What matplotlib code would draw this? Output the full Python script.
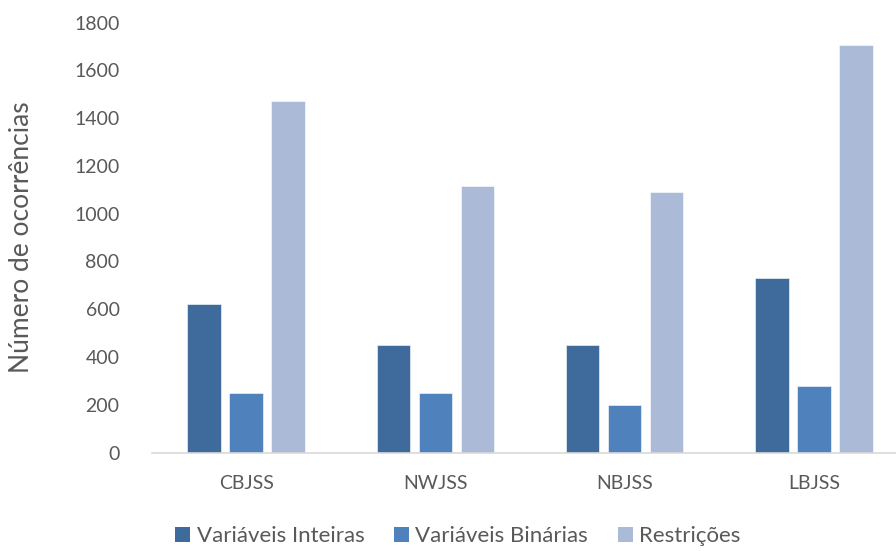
import matplotlib
matplotlib.use("Agg")
import matplotlib.pyplot as plt
import numpy as np
from matplotlib.patches import Patch

categories = ["CBJSS", "NWJSS", "NBJSS", "LBJSS"]
inteiras = [620, 450, 450, 730]
binarias = [250, 250, 200, 280]
restricoes = [1470, 1115, 1090, 1705]

series_names = ["Variáveis Inteiras", "Variáveis Binárias", "Restrições"]
colors = ["#3F6B9C", "#4F81BD", "#AABAD7"]
yticks = [0, 200, 400, 600, 800, 1000, 1200, 1400, 1600, 1800]

plt.rcParams["font.family"] = ["Lato", "DejaVu Sans"]
text_color = "#595959"

fig = plt.figure(figsize=(8.96, 5.51), dpi=100)
W, H = 896, 551
left_px, right_px = 151.5, 908.5
bottom_px, top_px = 452.5, 22.5
ax = fig.add_axes([left_px / W, (H - bottom_px) / H,
                   (right_px - left_px) / W, (bottom_px - top_px) / H])

x = np.arange(len(categories))
bw = 0.176
step = 0.222
for i, (vals, c, name) in enumerate(zip([inteiras, binarias, restricoes], colors, series_names)):
    ax.bar(x + (i - 1) * step, vals, width=bw, color=c, edgecolor="white",
           linewidth=0.4, label=name)

ax.set_xlim(-0.5, len(categories) - 0.5)
ax.set_ylim(0, 1800)
ax.set_yticks(yticks)
ax.set_yticklabels([str(t) for t in yticks])
ax.set_xticks(x)
ax.set_xticklabels(categories)

for s in ["top", "right", "left"]:
    ax.spines[s].set_visible(False)
ax.spines["bottom"].set_color("#D9D9D9")
ax.spines["bottom"].set_linewidth(1.2)

ax.tick_params(axis="y", length=0, pad=23, labelsize=14, labelcolor=text_color)
ax.tick_params(axis="x", length=0, pad=16, labelsize=14, labelcolor=text_color)

fig.text(22 / W, (H - 237) / H, "Número de ocorrências", rotation=90,
         ha="center", va="center", fontsize=19, color=text_color)

handles = [Patch(facecolor=c, edgecolor="none") for c in colors]
fig.legend(handles, series_names, loc="center", bbox_to_anchor=(458 / W, (H - 536) / H),
           ncol=3, frameon=False, fontsize=16, labelcolor=text_color,
           handlelength=0.65, handleheight=0.65, handletextpad=0.3, columnspacing=1.35)

fig.savefig("out.png", dpi=100)
